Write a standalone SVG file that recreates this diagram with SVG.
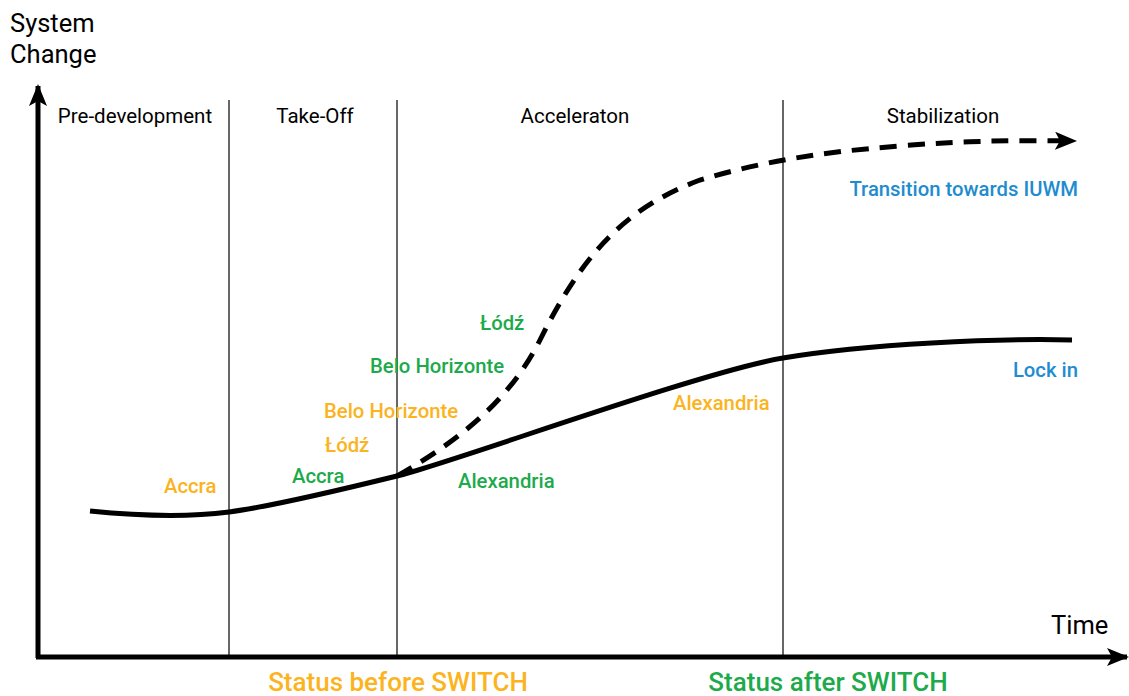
<svg xmlns="http://www.w3.org/2000/svg" width="1129" height="696" viewBox="0 0 1129 696">
<defs>
<style>
text{font-family:Roboto,"Liberation Sans",Arial,sans-serif;font-weight:500;}
.ax{font-size:25.5px;fill:#000;font-weight:400;}
.hd{font-size:20.5px;fill:#000;text-anchor:middle;font-weight:400;}
.lb{font-size:20.3px;}
.or{fill:#FBB31E;}
.gr{fill:#1DAA4B;}
.bl{fill:#1E8CCF;}
.st{font-size:26px;text-anchor:middle;}
.div{stroke:#000;stroke-width:1.2;fill:none;}
</style>
<marker id="ah" viewBox="0 0 22 18" refX="20" refY="9" markerWidth="22" markerHeight="18" markerUnits="userSpaceOnUse" orient="auto">
<path d="M0,0 L22,9 L0,18 L5,9 Z" fill="#000"/>
</marker>
</defs>
<g id="axes">
<line x1="38" y1="658" x2="38" y2="86" stroke="#000" stroke-width="5" marker-end="url(#ah)"/>
<line x1="36" y1="657" x2="1127" y2="657" stroke="#000" stroke-width="5" marker-end="url(#ah)"/>
<text class="ax" x="10" y="32">System</text>
<text class="ax" x="10" y="63">Change</text>
<text class="ax" x="1051" y="634">Time</text>
</g>
<g id="phases">
<line class="div" x1="229" y1="100" x2="229" y2="655"/>
<line class="div" x1="397" y1="100" x2="397" y2="655"/>
<line class="div" x1="783" y1="100" x2="783" y2="655"/>
<text class="hd" x="135" y="123">Pre-development</text>
<text class="hd" x="315" y="123">Take-Off</text>
<text class="hd" x="575" y="123">Acceleraton</text>
<text class="hd" x="943" y="123">Stabilization</text>
</g>
<g id="connectors">
<path id="lockin-curve" d="M90,511 C140,516 190,517 229,512 S340,490 397,476 S700,372 783,358 S1000,338 1072,340" fill="none" stroke="#000" stroke-width="5"/>
<path id="transition-curve" d="M397,476 C460,440 510,400 540,340 C580,260 620,210 700,180 C760,162 820,152 900,146 C960,141 1010,140 1075,141" fill="none" stroke="#000" stroke-width="5" stroke-dasharray="17,11" marker-end="url(#ah)"/>
</g>
<g id="labels">
<text class="lb bl" x="1078" y="196" text-anchor="end">Transition towards IUWM</text>
<text class="lb bl" x="1078" y="377" text-anchor="end">Lock in</text>
<text class="lb or" x="164" y="493">Accra</text>
<text class="lb gr" x="292" y="483">Accra</text>
<text class="lb or" x="325" y="452">Łódź</text>
<text class="lb or" x="324" y="418">Belo Horizonte</text>
<text class="lb gr" x="370" y="373">Belo Horizonte</text>
<text class="lb gr" x="480" y="330">Łódź</text>
<text class="lb gr" x="458" y="488">Alexandria</text>
<text class="lb or" x="673" y="410">Alexandria</text>
</g>
<g id="status">
<text class="st or" x="398" y="691">Status before SWITCH</text>
<text class="st gr" x="828" y="691">Status after SWITCH</text>
</g>
</svg>
